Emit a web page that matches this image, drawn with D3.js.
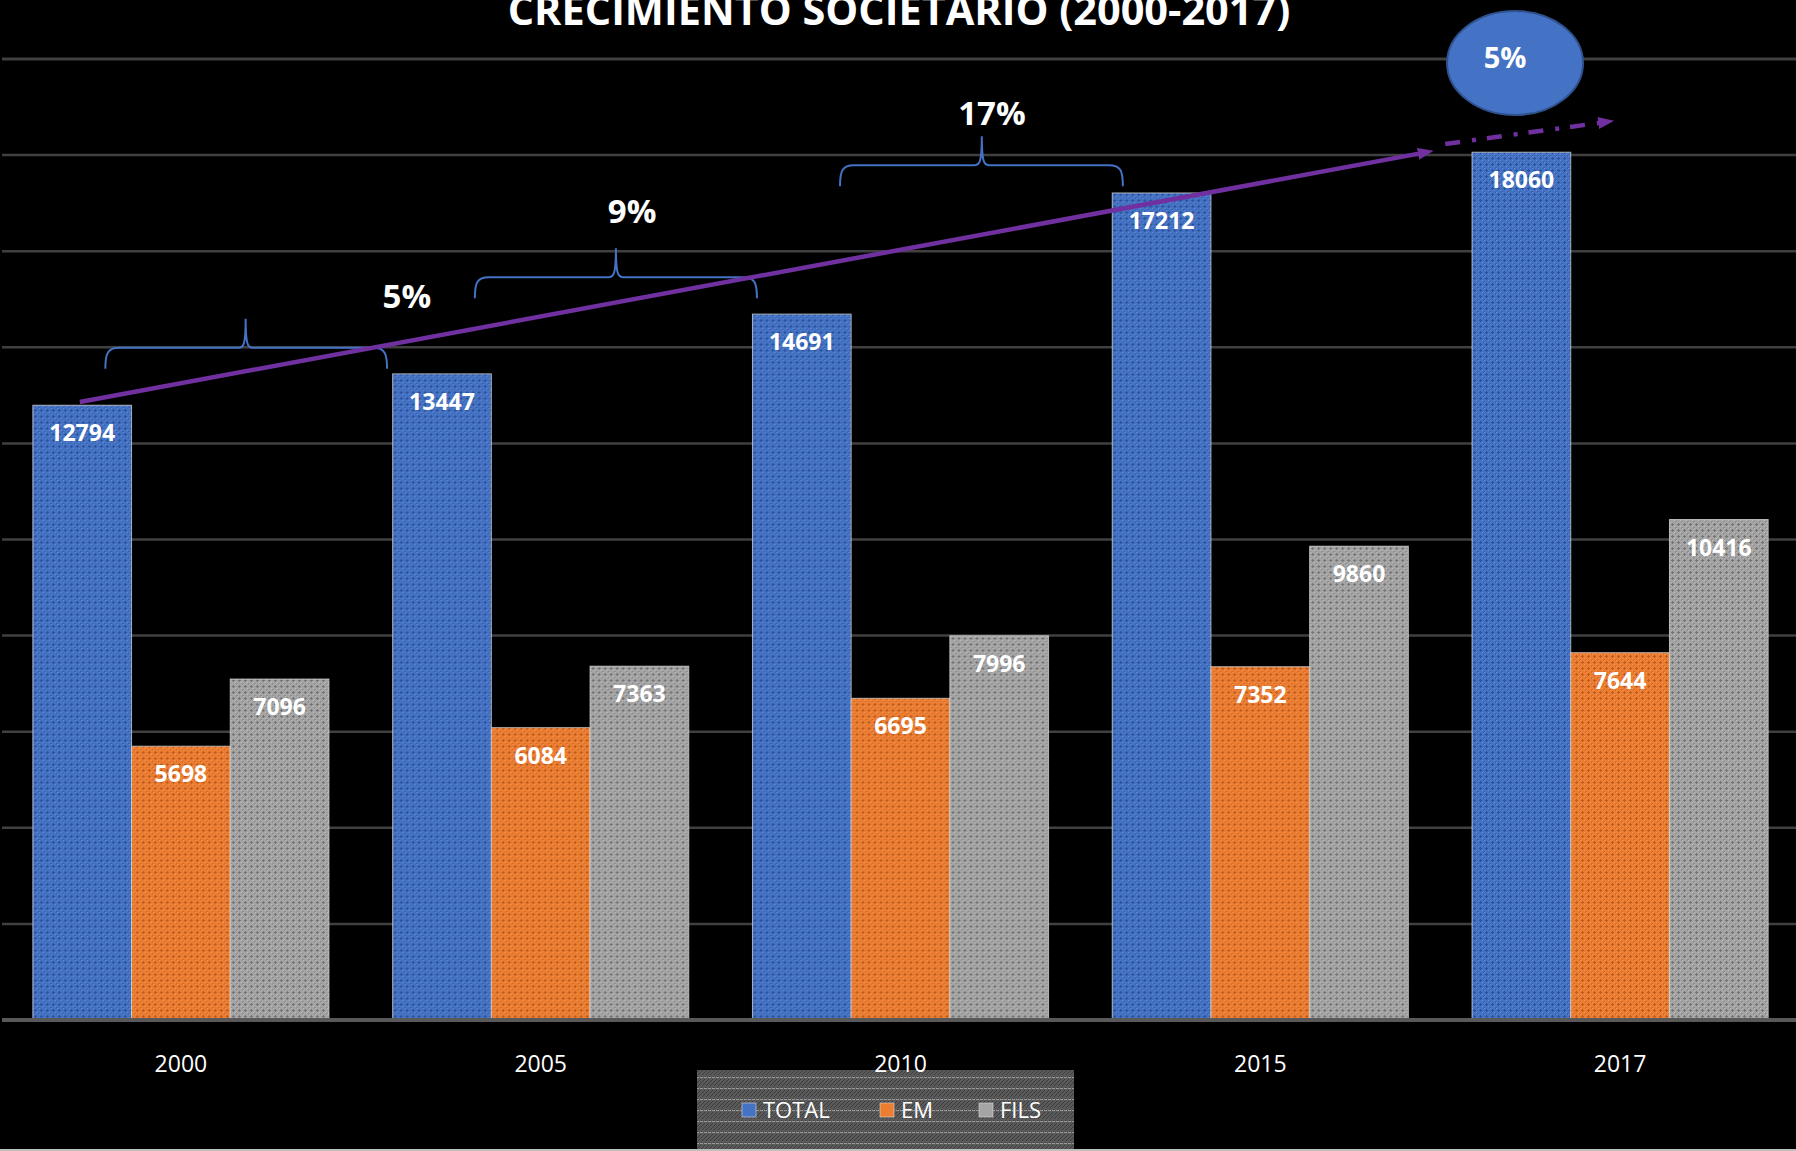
<!DOCTYPE html>
<html>
<head>
<meta charset="utf-8">
<script src="https://cdnjs.cloudflare.com/ajax/libs/d3/7.8.5/d3.min.js"></script>
<style>
  html, body { margin: 0; padding: 0; background: #000; overflow: hidden; }
  svg { display: block; }
</style>
</head>
<body>
<div id="chart"></div>
<script>
// data
var years = ["2000", "2005", "2010", "2015", "2017"];
var series = ["TOTAL", "EM", "FILS"];
var total = [12794, 13447, 14691, 17212, 18060];
var em = [5698, 6084, 6695, 7352, 7644];
var fils = [7096, 7363, 7996, 9860, 10416];
var yTicks = [0, 2000, 4000, 6000, 8000, 10000, 12000, 14000, 16000, 18000, 20000];
var title = "CRECIMIENTO SOCIETARIO (2000-2017)";

// annotations, in category index / value units
var growthLabels = ["5%", "9%", "17%"];
var growthPos = [[0.628, 14818], [1.254, 16587], [2.254, 18626]];
var braces = [[-0.21, 0.573, 13990], [0.817, 1.601, 15460], [1.832, 2.618, 17790]];
var braceTips = [0.18, 1.209, 2.226];
var trendSolid = [[-0.281, 12862], [3.441, 18031]];
var trendDash = [[3.514, 18231], [3.942, 18670]];
var bubble = {label: "5%", at: [3.708, 19917]};

var colors = {TOTAL: "#4472C4", EM: "#ED7D31", FILS: "#A5A5A5"};
var darker = {TOTAL: "#24468a", EM: "#a9521a", FILS: "#626262"};
var lighter = {TOTAL: "#86a4dc", EM: "#f6ad7a", FILS: "#d2d2d2"};

var W = 1796, H = 1151;
var svg = d3.select("#chart").append("svg")
  .attr("width", W).attr("height", H)
  .style("font-family", "'Open Sans', sans-serif");

svg.append("rect").attr("width", W).attr("height", H).attr("fill", "#000");

var defs = svg.append("defs");

// bar textures: small dark crosses on the fill colour
series.forEach(function(s) {
  var p = defs.append("pattern").attr("id", "pat-" + s)
    .attr("patternUnits", "userSpaceOnUse").attr("width", 6).attr("height", 6);
  p.append("rect").attr("width", 6).attr("height", 6).attr("fill", colors[s]);
  [[2, 1], [1, 2], [2, 2], [3, 2], [2, 3]].forEach(function(c) {
    p.append("rect").attr("x", c[0]).attr("y", c[1]).attr("width", 1).attr("height", 1)
      .attr("fill", darker[s]).attr("opacity", 0.75);
  });
  [[5, 5], [0, 5], [5, 0]].forEach(function(c) {
    p.append("rect").attr("x", c[0]).attr("y", c[1]).attr("width", 1).attr("height", 1)
      .attr("fill", darker[s]).attr("opacity", 0.35);
  });
  [[4, 4], [0, 0]].forEach(function(c) {
    p.append("rect").attr("x", c[0]).attr("y", c[1]).attr("width", 1).attr("height", 1)
      .attr("fill", lighter[s]).attr("opacity", 0.6);
  });
});

// legend texture
var lp = defs.append("pattern").attr("id", "pat-legend")
  .attr("patternUnits", "userSpaceOnUse").attr("width", 4).attr("height", 11);
lp.append("rect").attr("width", 4).attr("height", 11).attr("fill", "#5a5a5a");
[[0, 1], [2, 3], [0, 5], [2, 7], [1, 9], [3, 2], [1, 4], [3, 6]].forEach(function(c) {
  lp.append("rect").attr("x", c[0]).attr("y", c[1]).attr("width", 1).attr("height", 1).attr("fill", "#3c3c3c");
});
lp.append("rect").attr("x", 0).attr("y", 10).attr("width", 3).attr("height", 1).attr("fill", "#9a9a9a");

// arrow heads
defs.append("marker").attr("id", "arrow")
  .attr("markerUnits", "userSpaceOnUse")
  .attr("markerWidth", 18).attr("markerHeight", 14)
  .attr("refX", 1).attr("refY", 7).attr("orient", "auto")
  .append("path").attr("d", "M0,1 L16,7 L0,13 Z").attr("fill", "#7030A0");

// scales
var x0 = d3.scaleBand().domain(years).range([1, 1800])
  .paddingInner(0.177).paddingOuter(0.0885);
var x1 = d3.scaleBand().domain(series).range([0, x0.bandwidth()]);
var y = d3.scaleLinear().domain([0, 20000]).range([1020, 59]);
var xi = d3.scaleLinear().domain([0, 4])
  .range([x0(years[0]) + x0.bandwidth() / 2, x0(years[4]) + x0.bandwidth() / 2]);

// gridlines
svg.append("g").selectAll("line")
  .data(yTicks.slice(1))
  .enter().append("line")
  .attr("x1", 2).attr("x2", W)
  .attr("y1", function(d) { return y(d); })
  .attr("y2", function(d) { return y(d); })
  .attr("stroke", "#404040")
  .attr("stroke-width", function(d) { return d == 20000 ? 3 : 2.5; });

// bars
var rows = years.map(function(yr, i) {
  return {year: yr, TOTAL: total[i], EM: em[i], FILS: fils[i]};
});

var groups = svg.append("g").selectAll("g")
  .data(rows).enter().append("g")
  .attr("transform", function(d) { return "translate(" + x0(d.year) + ",0)"; });

var cells = groups.selectAll("g")
  .data(function(d) { return series.map(function(s) { return {key: s, value: d[s]}; }); })
  .enter().append("g");

cells.append("rect")
  .attr("x", function(d) { return x1(d.key); })
  .attr("y", function(d) { return y(d.value); })
  .attr("width", x1.bandwidth())
  .attr("height", function(d) { return y(0) - y(d.value); })
  .attr("fill", function(d) { return "url(#pat-" + d.key + ")"; })
  .attr("stroke", "#d9d9d9").attr("stroke-opacity", 0.75).attr("stroke-width", 1);

cells.append("text")
  .attr("x", function(d) { return x1(d.key) + x1.bandwidth() / 2; })
  .attr("y", function(d) { return y(d.value) + 36; })
  .attr("text-anchor", "middle")
  .attr("fill", "#fff").attr("font-weight", "bold").attr("font-size", 23)
  .text(function(d) { return d.value; });

// baseline
svg.append("line").attr("x1", 2).attr("x2", W).attr("y1", y(0)).attr("y2", y(0))
  .attr("stroke", "#595959").attr("stroke-width", 4);

// braces
var braceG = svg.append("g").attr("fill", "none").attr("stroke", "#4472C4").attr("stroke-width", 2);
braces.forEach(function(b, i) {
  var xa = xi(b[0]), xb = xi(b[1]), yy = y(b[2]), xm = xi(braceTips[i]);
  var d = "M" + xa + "," + (yy + 21) +
    " C" + xa + "," + (yy + 6) + " " + (xa + 2) + "," + yy + " " + (xa + 14) + "," + yy +
    " L" + (xm - 7) + "," + yy +
    " C" + (xm - 2) + "," + yy + " " + xm + "," + (yy - 4) + " " + xm + "," + (yy - 29) +
    " M" + xm + "," + (yy - 29) +
    " C" + xm + "," + (yy - 4) + " " + (xm + 2) + "," + yy + " " + (xm + 7) + "," + yy +
    " L" + (xb - 14) + "," + yy +
    " C" + (xb - 2) + "," + yy + " " + xb + "," + (yy + 6) + " " + xb + "," + (yy + 21);
  braceG.append("path").attr("d", d);
});

// trend arrows
var line = d3.line().x(function(d) { return xi(d[0]); }).y(function(d) { return y(d[1]); });
svg.append("path").attr("d", line(trendSolid))
  .attr("stroke", "#7030A0").attr("stroke-width", 4.5).attr("fill", "none")
  .attr("marker-end", "url(#arrow)");
svg.append("path").attr("d", line(trendDash))
  .attr("stroke", "#7030A0").attr("stroke-width", 4.5).attr("fill", "none")
  .attr("stroke-dasharray", "15,12,4,11")
  .attr("marker-end", "url(#arrow)");

// growth labels
svg.append("g").selectAll("text")
  .data(growthLabels).enter().append("text")
  .attr("x", function(d, i) { return xi(growthPos[i][0]); })
  .attr("y", function(d, i) { return y(growthPos[i][1]); })
  .attr("text-anchor", "middle")
  .attr("fill", "#fff").attr("font-weight", "bold").attr("font-size", 33)
  .text(function(d) { return d; });

// bubble
svg.append("ellipse")
  .attr("cx", xi(bubble.at[0])).attr("cy", y(bubble.at[1]))
  .attr("rx", 68).attr("ry", 52)
  .attr("fill", "#4472C4").attr("stroke", "#2F528F").attr("stroke-width", 2);
svg.append("text")
  .attr("x", xi(bubble.at[0]) - 10).attr("y", y(bubble.at[1]) + 5)
  .attr("text-anchor", "middle")
  .attr("fill", "#fff").attr("font-weight", "bold").attr("font-size", 29)
  .text(bubble.label);

// title (top part runs off the canvas like the original)
var t = svg.append("text")
  .attr("x", 899).attr("y", 25)
  .attr("text-anchor", "middle")
  .attr("fill", "#fff").attr("font-weight", "bold").attr("font-size", 44)
  .text(title);
var tw = t.node().getComputedTextLength();
t.attr("font-size", 44 * 783 / tw);

// legend
var lg = svg.append("g");
lg.append("rect").attr("x", 697).attr("y", 1070).attr("width", 377).attr("height", 80)
  .attr("fill", "url(#pat-legend)");
var legendX = [742, 880, 979];
series.forEach(function(s, i) {
  lg.append("rect").attr("x", legendX[i]).attr("y", 1103).attr("width", 14).attr("height", 14)
    .attr("fill", colors[s]).attr("stroke", "#d9d9d9").attr("stroke-opacity", 0.6);
  lg.append("text").attr("x", legendX[i] + 21).attr("y", 1118)
    .attr("fill", "#fff").attr("font-size", 22)
    .text(s);
});

// x axis labels
svg.append("g").selectAll("text")
  .data(years).enter().append("text")
  .attr("x", function(d) { return x0(d) + x0.bandwidth() / 2; })
  .attr("y", 1072)
  .attr("text-anchor", "middle")
  .attr("fill", "#fff").attr("font-size", 23)
  .text(function(d) { return d; });

// chart border at the bottom
svg.append("line").attr("x1", 0).attr("x2", W).attr("y1", 1150).attr("y2", 1150)
  .attr("stroke", "#bfbfbf").attr("stroke-width", 2);
</script>
</body>
</html>
